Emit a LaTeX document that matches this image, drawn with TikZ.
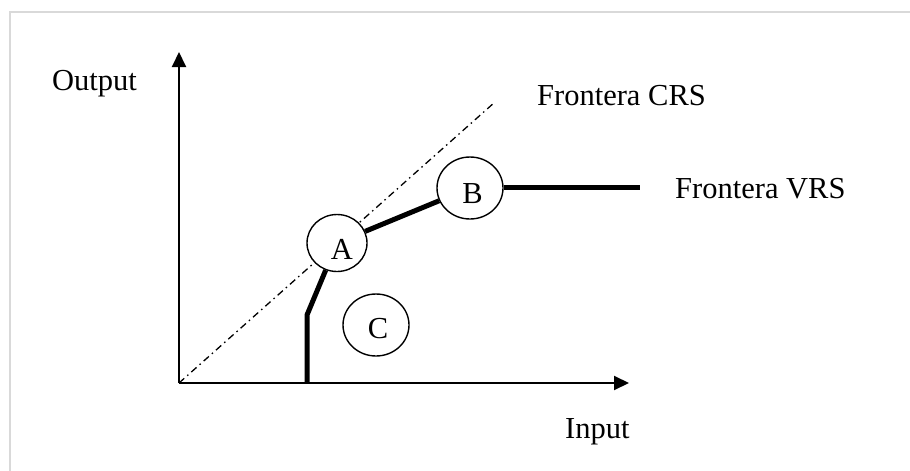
\documentclass[tikz,border=0pt]{standalone}
\usepackage{fontspec}
\setmainfont{Liberation Serif}
\usetikzlibrary{arrows.meta,shapes.geometric}
\begin{document}
\begin{tikzpicture}[x=1pt,y=-1pt,
  axis/.style={line width=2pt,-{Triangle[length=15pt,width=14pt]}},
  front/.style={line width=5pt},
  crs/.style={line width=1.3pt,dash pattern=on 7pt off 4pt on 1.5pt off 4pt},
  firm/.style={ellipse,draw,line width=1.4pt,fill=white,inner sep=0pt},
  lbl/.style={font=\fontsize{30.5}{32}\selectfont,inner sep=0pt},
  frame/.style={draw=black!15,line width=2pt}]
\useasboundingbox (0,0) rectangle (910,471);
\fill[white] (0,0) rectangle (910,471);
\coordinate (tl) at (10,12);
\coordinate (tr) at (910,12);
\coordinate (bl) at (10,471);
\draw[frame] (tr) -- (tl) -- (bl);
% axes
\coordinate (O) at (179,383);
\coordinate (ytip) at (179,52);
\coordinate (xtip) at (629,383);
\draw[axis] (O) -- (ytip);
\draw[axis] (O) -- (xtip);
% CRS frontier
\coordinate (crsend) at (495,102);
\draw[crs] (O) -- (crsend);
% firms
\node[firm,minimum width=60pt,minimum height=57pt] (A) at (337,243) {};
\node[firm,minimum width=66pt,minimum height=62pt] (B) at (470,188) {};
\node[firm,minimum width=66pt,minimum height=62pt] (C) at (376,325) {};
% VRS frontier
\coordinate (v0) at (307,383);
\coordinate (v1) at (307,315);
\coordinate (vend) at (640,187);
\draw[front] (v0) -- (v1) -- (A);
\draw[front] (A) -- (B);
\draw[front] (B.east |- vend) -- (vend);
% labels
\node[lbl,anchor=base] (la) at (342,259) {A};
\node[lbl,anchor=base] (lb) at (472.5,203) {B};
\node[lbl,anchor=base] (lc) at (378,338) {C};
\node[lbl,anchor=base west] (lout) at (52,90) {Output};
\node[lbl,anchor=base west] (lin) at (565,438) {Input};
\node[lbl,anchor=base west] (lcrs) at (537,105) {Frontera CRS};
\node[lbl,anchor=base west] (lvrs) at (675,198) {Frontera VRS};
\end{tikzpicture}
\end{document}
